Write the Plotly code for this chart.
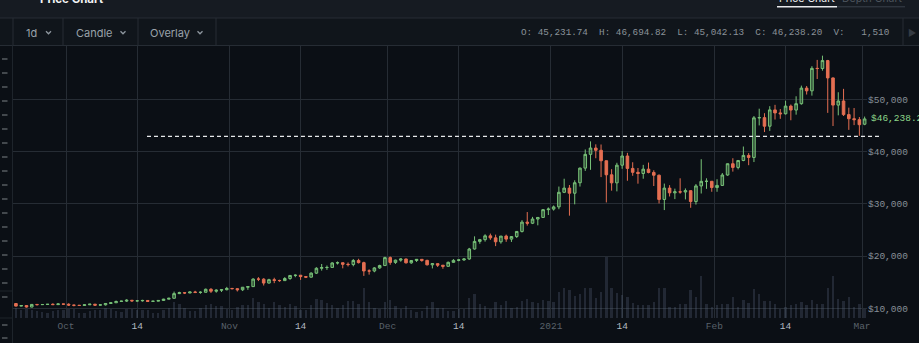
import plotly.graph_objects as go
import pandas as pd

# ---------------- data ----------------
dates = pd.date_range("2020-09-21 12:00", periods=162, freq="D")

opens = [
    10920, 10420, 10535, 10240, 10745, 10695, 10730, 10775, 10700, 10840,
    10780, 10620, 10570, 10550, 10670, 10790, 10600, 10670, 10925, 11060,
    11300, 11375, 11540, 11425, 11430, 11500, 11320, 11365, 11500, 11750,
    11915, 12810, 12990, 12930, 13125, 13040, 13070, 13640, 13270, 13460, 13560,
    13800, 13760, 13550, 14030, 14150, 15590, 15580, 14830, 15480, 15330,
    15300, 15700, 16290, 16330, 16070, 15960, 16730, 17660, 17800, 17820,
    18680, 18720, 18420, 18370, 19160, 18740, 17150, 17140, 17730, 18180,
    19700, 18780, 19220, 19440, 18700, 19150, 19370, 19170, 18320, 18550,
    18250, 18030, 18800, 19170, 19270, 19440, 21350, 22800, 23140, 23870,
    23480, 22730, 23820, 23240, 23730, 24710, 26490, 26280, 27080, 27390, 28880,
    28990, 29410, 32200, 33000, 32030, 34030, 36830, 39460, 40670, 40240,
    38240, 35550, 34010, 37390, 39150, 36770, 36020, 35800, 36630, 36000,
    35470, 30830, 33000, 32100, 32290, 32260, 32510, 30430, 33420, 34300, 34310,
    33110, 33520, 35510, 37670, 36960, 38290, 39260, 38870, 46450, 46490,
    44850, 47970, 47390, 47230, 48700, 47940, 49160, 52140, 51620, 55920,
    55890, 57410, 54090, 48890, 49680, 47070, 46280, 46100,
    45231.74,
]
highs = [
    10990, 10580, 10540, 10790, 10770, 10800, 10800, 10950, 10860, 10860,
    10950, 10670, 10600, 10690, 10800, 10800, 10690, 10950, 11100, 11490,
    11440, 11730, 11550, 11560, 11630, 11540, 11400, 11500, 11820, 12020,
    13200, 13170, 13030, 13160, 13350, 13250, 13780, 13860, 13630, 13690, 14100,
    13900, 13820, 14070, 14250, 15750, 15970, 15760, 15650, 15850, 15460,
    15970, 16350, 16490, 16330, 16150, 16890, 17860, 18480, 18190, 18820,
    18960, 18760, 18780, 19420, 19480, 18920, 17470, 17880, 18340, 19860,
    19920, 19310, 19570, 19510, 19170, 19420, 19410, 19290, 18640, 18570,
    18280, 18940, 19410, 19350, 19560, 21560, 23770, 23280, 24170, 24300,
    24100, 23830, 24100, 23780, 24780, 26870, 28420, 27500, 27400, 28990, 29300,
    29680, 33300, 34800, 33600, 34500, 36940, 40400, 41950, 41380, 41350,
    38270, 36630, 37850, 40100, 39750, 37950, 36850, 37450, 37890, 36420,
    35600, 33870, 33570, 32900, 34880, 32940, 32560, 33780, 38530, 34880, 34340,
    34700, 35890, 37700, 38720, 38300, 40960, 39700, 46800, 48200, 47340,
    48680, 48940, 48130, 49720, 49000, 50580, 52620, 52550, 56330, 57540,
    58350, 57540, 54180, 51350, 52000, 48400, 48330, 46600,
    46694.82,
]
lows = [
    10370, 10360, 10140, 10200, 10560, 10660, 10640, 10680, 10650, 10670,
    10440, 10370, 10500, 10520, 10630, 10530, 10550, 10530, 10830, 11050,
    11270, 11210, 11250, 11300, 11280, 11220, 11300, 11340, 11410, 11690,
    11900, 12720, 12730, 12890, 12900, 12780, 13040, 12930, 12990, 13120, 13430,
    13620, 13220, 13300, 13530, 14100, 15210, 14360, 14720, 14810, 15080,
    15280, 15450, 15950, 15440, 15790, 15880, 16570, 17210, 17350, 17760,
    18380, 17650, 18010, 18030, 18580, 16200, 16440, 16900, 17550, 18180,
    18330, 18500, 18920, 18580, 18510, 18870, 18910, 18210, 17630, 17920,
    17570, 18010, 18730, 19000, 19070, 19290, 21230, 22350, 22760, 23100,
    21900, 22370, 22720, 22700, 23460, 24510, 25830, 26120, 25880, 27340, 27850,
    28700, 28960, 32050, 27730, 29900, 33300, 36300, 36500, 38720, 35110,
    30260, 32510, 32380, 36700, 34410, 35360, 33850, 34800, 35830, 33400,
    30070, 28800, 31400, 30900, 31930, 30840, 29240, 29850, 31970, 32860, 32300,
    32300, 33420, 35370, 36160, 36590, 38150, 37390, 37990, 45000, 43730,
    43950, 46130, 46260, 47090, 45990, 47060, 48970, 50910, 50700, 53880,
    55480, 47400, 44890, 46930, 46800, 44150, 45060, 43000,
    45042.13,
]
closes = [
    10420, 10535, 10240, 10745, 10695, 10730, 10775, 10700, 10840, 10780,
    10620, 10570, 10550, 10670, 10790, 10600, 10670, 10925, 11060, 11300,
    11375, 11540, 11425, 11430, 11500, 11320, 11365, 11500, 11750, 11915,
    12810, 12990, 12930, 13125, 13040, 13070, 13640, 13270, 13460, 13560, 13800,
    13760, 13550, 14030, 14150, 15590, 15580, 14830, 15480, 15330, 15300,
    15700, 16290, 16330, 16070, 15960, 16730, 17660, 17800, 17820, 18680,
    18720, 18420, 18370, 19160, 18740, 17150, 17140, 17730, 18180, 19700,
    18780, 19220, 19440, 18700, 19150, 19370, 19170, 18320, 18550, 18250,
    18030, 18800, 19170, 19270, 19440, 21350, 22800, 23140, 23870, 23480,
    22730, 23820, 23240, 23730, 24710, 26490, 26280, 27080, 27390, 28880, 28990,
    29410, 32200, 33000, 32030, 34030, 36830, 39460, 40670, 40240, 38240,
    35550, 34010, 37390, 39150, 36770, 36020, 35800, 36630, 36000, 35470,
    30830, 33000, 32100, 32290, 32260, 32510, 30430, 33420, 34300, 34310, 33110,
    33520, 35510, 37670, 36960, 38290, 39260, 38870, 46450, 46490, 44850,
    47970, 47390, 47230, 48700, 47940, 49160, 52140, 51620, 55920, 55890,
    57410, 54090, 48890, 49680, 47070, 46280, 46100, 45140,
    46238.20,
]
volumes_k = [
    10, 8, 9, 8, 7, 6, 5, 7, 8, 8,
    9, 9, 5, 5, 7, 8, 8, 10, 9, 7, 6, 9, 9, 8, 8, 8, 5, 5, 8, 10,
    16, 14, 10, 7, 7, 10, 13, 14, 12, 12, 9,
    8, 11, 13, 13, 20, 16, 14, 10, 16, 13, 11, 14, 12, 8, 8, 13, 19, 18, 15, 13,
    10, 13, 17, 17, 14, 30, 16, 10, 9, 16,
    18, 12, 9, 12, 8, 6, 7, 12, 16, 10, 10, 7, 7, 9, 9, 20, 24, 14, 12, 9,
    16, 13, 17, 10, 11, 17, 19, 16, 15, 18, 17,
    16, 26, 30, 28, 22, 24, 30, 30, 20, 26, 61, 30, 25, 23, 21, 15, 13, 13, 13, 16,
    30, 30, 11, 11, 14, 14, 28, 21, 42, 14, 11,
    13, 14, 14, 21, 11, 18, 15, 29, 24, 17, 17, 14, 9, 11, 13, 14, 16, 13, 18, 14,
    14, 30, 42, 19, 17, 21, 11, 14,
    9,
]

price_ticks = [10000, 20000, 30000, 40000, 50000]
price_tick_labels = ["$10,000", "$20,000", "$30,000", "$40,000", "$50,000"]
x_tick_dates = ["2020-10-01", "2020-10-14 12:00", "2020-11-01", "2020-11-14 12:00",
                "2020-12-01", "2020-12-14 12:00", "2021-01-01", "2021-01-14 12:00",
                "2021-02-01", "2021-02-14 12:00", "2021-03-01"]
x_tick_labels = ["Oct", "14", "Nov", "14", "Dec", "14", "2021", "14", "Feb", "14", "Mar"]
x_tick_major = [False, True, False, True, False, True, False, True, False, True, False]
reference_level = 42900
last_price_label = "$46,238.20"
ohlc_fields = [("O:", "45,231.74"), ("H:", "46,694.82"), ("L:", "45,042.13"),
               ("C:", "46,238.20"), ("V:", "  1,510")]
toolbar_items = [("1d", 31, 48.5), ("Candle", 94.5, 123), ("Overlay", 170, 200)]

# ---------------- geometry / style ----------------
W, H = 919, 343
PL, PR, PT, PB = 13, 867, 46, 318
X_RANGE = ["2020-09-20 22:38", "2021-03-01 22:46"]
Y_RANGE = [8144, 60200]
VOL_RANGE = [0, PB - PT]

BG = "#0b0f15"
BG_HEAD = "#161b22"
BG_TOOL = "#10151b"
SEP = "#262c34"
GRID = "#262c34"
MONO = "Liberation Mono, DejaVu Sans Mono, monospace"
SANS = "Inter, Roboto, Noto Sans, sans-serif"


def px(x):
    return (x - PL) / (PR - PL)


def py(y):
    return (PB - y) / (PB - PT)


fig = go.Figure()

fig.add_trace(go.Bar(
    x=dates, y=volumes_k, yaxis="y", xaxis="x",
    marker=dict(color="rgba(95,112,135,0.27)", line=dict(width=0)),
    width=0.45 * 86400000, hoverinfo="skip",
))

fig.add_trace(go.Candlestick(
    x=dates, open=opens, high=highs, low=lows, close=closes,
    yaxis="y2", xaxis="x",
    increasing=dict(line=dict(color="#78c278", width=1), fillcolor="rgba(110,180,110,0.40)"),
    decreasing=dict(line=dict(color="#e56f52", width=1), fillcolor="#e56f52"),
    whiskerwidth=0, hoverinfo="skip",
))

shapes = []
# header and toolbar backgrounds
shapes.append(dict(type="rect", xref="paper", yref="paper", x0=px(0), x1=px(W), y0=py(0), y1=py(18),
                   fillcolor=BG_HEAD, line=dict(width=0), layer="below"))
shapes.append(dict(type="rect", xref="paper", yref="paper", x0=px(0), x1=px(W), y0=py(18), y1=py(45.5),
                   fillcolor=BG_TOOL, line=dict(width=0), layer="below"))
for yy in (18, 45.5):
    shapes.append(dict(type="line", xref="paper", yref="paper", x0=px(0), x1=px(W), y0=py(yy), y1=py(yy),
                       line=dict(color=SEP, width=1)))
for xx in (13, 63, 138, 216, 903):
    shapes.append(dict(type="line", xref="paper", yref="paper", x0=px(xx), x1=px(xx), y0=py(18), y1=py(45.5),
                       line=dict(color=SEP, width=1)))
# left panel border
shapes.append(dict(type="line", xref="paper", yref="paper", x0=px(12.5), x1=px(12.5), y0=py(45.5), y1=py(H),
                   line=dict(color="#1e242b", width=1)))
for yy in (291, 318):
    shapes.append(dict(type="line", xref="paper", yref="paper", x0=px(0), x1=px(12.5), y0=py(yy), y1=py(yy),
                       line=dict(color="#1e242b", width=1)))
# left strip ticks
for yy in list(range(59, 299, 14)) + [325, 338]:
    shapes.append(dict(type="line", xref="paper", yref="paper", x0=px(2), x1=px(7.5), y0=py(yy), y1=py(yy),
                       line=dict(color="rgba(200,206,212,0.6)", width=1)))
# tab underline
shapes.append(dict(type="line", xref="paper", yref="paper", x0=px(837), x1=px(905), y0=py(6.8), y1=py(6.8),
                   line=dict(color="#3a414a", width=1)))
shapes.append(dict(type="line", xref="paper", yref="paper", x0=px(777), x1=px(837), y0=py(6.8), y1=py(6.8),
                   line=dict(color="#e8eaec", width=1.6)))
# chevrons
for _, _, cx in toolbar_items:
    shapes.append(dict(type="path", xref="paper", yref="paper",
                       path="M {} {} L {} {} L {} {}".format(px(cx - 2.5), py(31.3), px(cx), py(33.8),
                                                             px(cx + 2.5), py(31.3)),
                       line=dict(color="#8f979f", width=1.3)))
# dashed reference level
lvl = (reference_level - Y_RANGE[0]) / (Y_RANGE[1] - Y_RANGE[0])
shapes.append(dict(type="line", xref="paper", yref="paper", x0=px(147), x1=px(881), y0=lvl, y1=lvl,
                   line=dict(color="#e6e8ea", width=1.2, dash="4px,3px")))

annotations = []
# header titles (cut off at top, as in the original screenshot)
annotations.append(dict(text="<b>Price Chart</b>", xref="paper", yref="paper", x=px(38), y=py(-1.5),
                        xanchor="left", yanchor="middle", showarrow=False,
                        font=dict(family=SANS, size=11.5, color="#f2f3f4")))
annotations.append(dict(text="Price Chart", xref="paper", yref="paper", x=px(777), y=py(-1.5),
                        xanchor="left", yanchor="middle", showarrow=False,
                        font=dict(family=SANS, size=10.5, color="#f2f3f4")))
annotations.append(dict(text="Depth Chart", xref="paper", yref="paper", x=px(840), y=py(-1.5),
                        xanchor="left", yanchor="middle", showarrow=False,
                        font=dict(family=SANS, size=10.5, color="#4d555e")))
for label, cx, _ in toolbar_items:
    annotations.append(dict(text=label, xref="paper", yref="paper", x=px(cx), y=py(32.5),
                            xanchor="center", yanchor="middle", showarrow=False,
                            font=dict(family=SANS, size=11, color="#9aa2aa")))
ohlc_text = "\u00a0\u00a0".join("{}\u00a0{}".format(k, v.replace(" ", "\u00a0")) for k, v in ohlc_fields)
annotations.append(dict(text=ohlc_text, xref="paper", yref="paper", x=px(519), y=py(33),
                        xanchor="left", yanchor="middle", showarrow=False,
                        font=dict(family=MONO, size=9.3, color="#8a9299")))
annotations.append(dict(text="\u25b6", xref="paper", yref="paper", x=px(912), y=py(33),
                        xanchor="center", yanchor="middle", showarrow=False,
                        font=dict(family=SANS, size=9, color="#353b43")))
annotations.append(dict(text=last_price_label, xref="paper", yref="y2", x=px(869), y=closes[-1],
                        xanchor="left", yanchor="middle", showarrow=False,
                        font=dict(family=MONO, size=9.5, color="#8ed88a")))

tick_text = [
    '<span style="color:{}">{}</span>'.format("#b3bac1" if major else "#59616a", lab)
    for lab, major in zip(x_tick_labels, x_tick_major)
]

fig.update_layout(
    width=W, height=H,
    margin=dict(l=PL, r=W - PR, t=PT, b=H - PB, pad=0, autoexpand=False),
    paper_bgcolor=BG, plot_bgcolor=BG,
    showlegend=False, bargap=0,
    shapes=shapes, annotations=annotations,
    xaxis=dict(type="date", range=X_RANGE, rangeslider=dict(visible=False),
               tickvals=x_tick_dates, ticktext=tick_text, showgrid=True, gridcolor=GRID, gridwidth=1,
               ticks="", showline=False, zeroline=False,
               tickfont=dict(family=MONO, size=9.5, color="#8a9299")),
    yaxis=dict(range=VOL_RANGE, visible=False, showgrid=False, fixedrange=True),
    yaxis2=dict(range=Y_RANGE, overlaying="y", side="right", tickvals=price_ticks,
                ticktext=price_tick_labels, showgrid=True, gridcolor=GRID, gridwidth=1,
                ticks="", showline=False, zeroline=False,
                tickfont=dict(family=MONO, size=9.5, color="#878f97")),
)

fig.write_html("out.html")
